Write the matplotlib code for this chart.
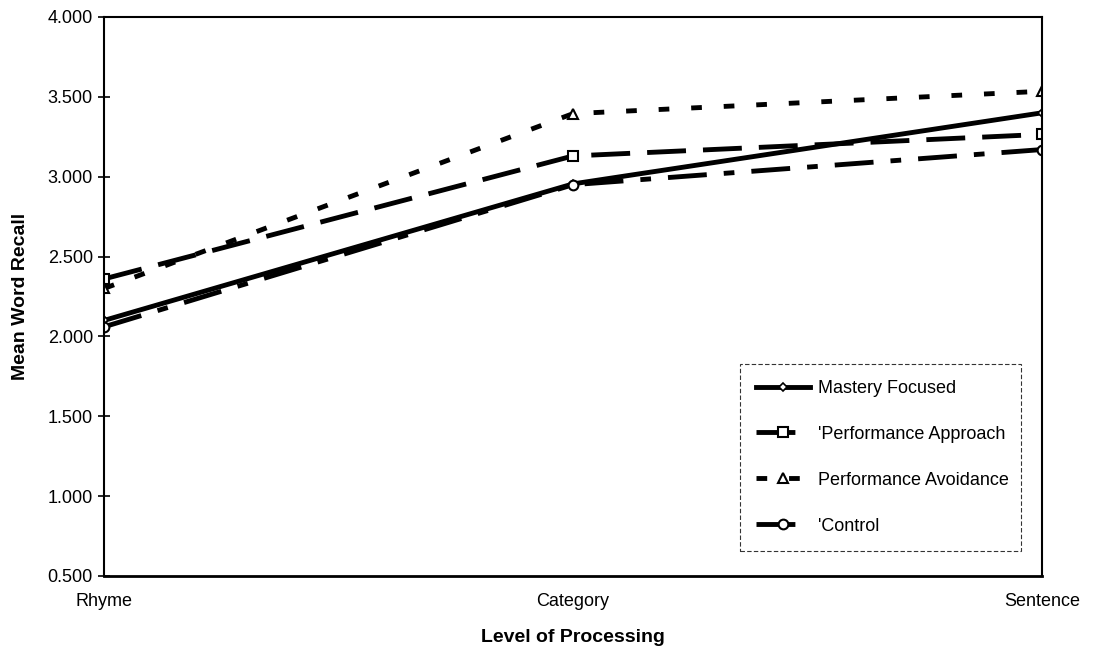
import matplotlib
matplotlib.use("Agg")
import matplotlib.pyplot as plt

categories = ["Rhyme", "Category", "Sentence"]
mastery = [2.10, 2.955, 3.40]
approach = [2.36, 3.13, 3.265]
avoidance = [2.30, 3.395, 3.535]
control = [2.06, 2.95, 3.17]
yticks = [0.5, 1.0, 1.5, 2.0, 2.5, 3.0, 3.5, 4.0]

plt.rcParams['font.family'] = ['Liberation Sans', 'DejaVu Sans']

fig = plt.figure(figsize=(10.94, 6.46), dpi=100)
ax = fig.add_axes([0.0951, 0.1084, 0.8574, 0.8653])

x = list(range(len(categories)))
lw = 3.5
ax.plot(x, mastery, color='black', lw=lw, linestyle='-', marker='D', ms=4,
        mfc='white', mec='black', mew=1.2, label='Mastery Focused')
ax.plot(x, approach, color='black', lw=lw, linestyle=(0, (8, 3.5)), marker='s', ms=7,
        mfc='white', mec='black', mew=1.5, label="'Performance Approach")
ax.plot(x, avoidance, color='black', lw=lw, linestyle=(0, (2.2, 4.5)), marker='^', ms=7,
        mfc='white', mec='black', mew=1.5, label='Performance Avoidance')
ax.plot(x, control, color='black', lw=lw, linestyle=(0, (8, 3.5, 2.2, 3.5)), marker='o', ms=7,
        mfc='white', mec='black', mew=1.5, label="'Control")

ax.set_xlim(0, 2)
ax.set_ylim(0.5, 4.0)
ax.set_yticks(yticks)
ax.set_yticklabels([f"{v:.3f}" for v in yticks], fontsize=13)
ax.set_xticks(x)
ax.set_xticklabels(categories, fontsize=13)
ax.tick_params(axis='y', direction='inout', length=8, width=1.2, pad=4)
ax.tick_params(axis='x', length=0, pad=12)
for s in ax.spines.values():
    s.set_linewidth(1.5)
ax.spines['bottom'].set_linewidth(2.0)

ax.set_ylabel("Mean Word Recall", fontsize=14, fontweight='bold')
ax.yaxis.set_label_coords(-0.080, 0.5)
ax.set_xlabel("Level of Processing", fontsize=14, fontweight='bold', labelpad=14)

leg = ax.legend(loc='lower left', bbox_to_anchor=(0.678, 0.045, 0.3, 0.35),
                mode='expand', fontsize=13, frameon=True, fancybox=False,
                handlelength=3.0, labelspacing=1.6, borderpad=0.9,
                handletextpad=0.4, borderaxespad=0)
leg.get_frame().set_edgecolor('black')
leg.get_frame().set_linestyle((0, (4, 2)))
leg.get_frame().set_linewidth(0.8)

fig.savefig("out.png", dpi=100)
